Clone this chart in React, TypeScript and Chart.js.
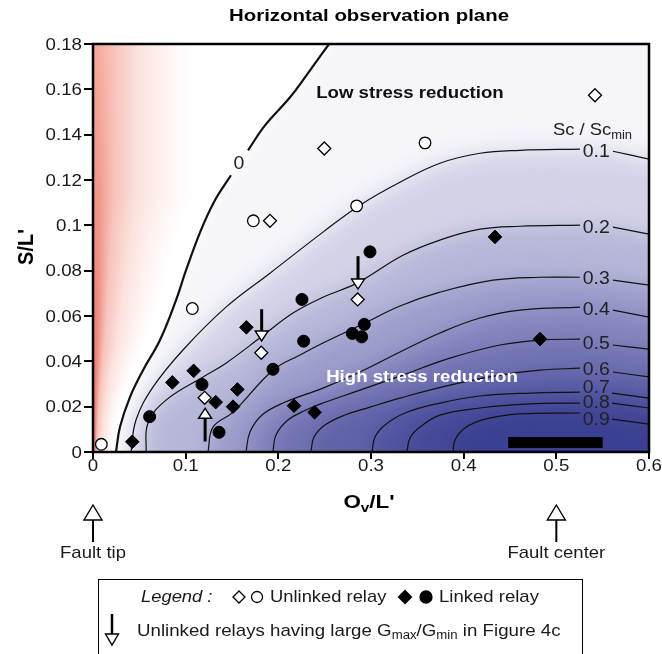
import React, { useEffect, useRef } from 'react';
import { Chart, registerables } from 'chart.js';

Chart.register(...registerables);

const FONT = '"Liberation Sans", Arial, Helvetica, sans-serif';
const TEXT = '#1a1a1a';

// ---- axes ----
const xMin = 0, xMax = 0.6, xStep = 0.1;
const yMin = 0, yMax = 0.18, yStep = 0.02;

// ---- observations [Ov/L', S/L'] ----
const unlinkedDiamonds = [[0.5417, 0.1574], [0.2496, 0.1339], [0.191, 0.102], [0.1205, 0.0239], [0.1816, 0.0438], [0.2856, 0.0673]];
const unlinkedCircles = [[0.009, 0.0034], [0.1072, 0.0633], [0.173, 0.102], [0.2845, 0.1086], [0.3583, 0.1364]];
const linkedDiamonds = [[0.0424, 0.0045], [0.0856, 0.0307], [0.1086, 0.0358], [0.1324, 0.022], [0.1558, 0.0276], [0.1511, 0.02], [0.1655, 0.055], [0.2169, 0.0204], [0.2392, 0.0175], [0.4338, 0.0949], [0.4824, 0.0498]];
const linkedCircles = [[0.0611, 0.0156], [0.1176, 0.0298], [0.136, 0.0087], [0.1942, 0.0365], [0.2255, 0.0673], [0.2273, 0.0489], [0.2798, 0.0523], [0.2899, 0.0508], [0.2928, 0.0563], [0.2989, 0.0883]];

// ---- arrows (unlinked relays with large Gmax/Gmin) ----
const arrowX = [0.182, 0.286, 0.121];
const arrowFrom = [0.063, 0.0864, 0.0046];
const arrowTo = [0.049, 0.0719, 0.0193];

// ---- fault bar ----
const faultBarX = [0.448, 0.55];
const faultBarY = [0.0018, 0.0066];

// ---- contours Sc/Scmin ----
const contourZeroLow = [[0.0248, 0], [0.0291, 0.011], [0.0399, 0.0242], [0.054, 0.0361], [0.0723, 0.0494], [0.0896, 0.067], [0.1004, 0.0802], [0.1165, 0.0979], [0.1316, 0.1111], [0.1489, 0.1221]];
const contourZeroHigh = [[0.1673, 0.1331], [0.1856, 0.1441], [0.2126, 0.1565], [0.2342, 0.1684], [0.2547, 0.18]];

const contourLevels = ['0.1', '0.2', '0.3', '0.4', '0.5', '0.6', '0.7', '0.8', '0.9'];
const contourLabelY = [0.1327, 0.0993, 0.0767, 0.063, 0.048, 0.0366, 0.0287, 0.022, 0.0145];
const c01 = [[0.041, 0], [0.0464, 0.0141], [0.0647, 0.0286], [0.0971, 0.045], [0.1435, 0.0639], [0.191, 0.0789], [0.2482, 0.097], [0.2881, 0.1089], [0.3313, 0.119], [0.3744, 0.1274], [0.4176, 0.1318], [0.4608, 0.1331], [0.5255, 0.1336]];
const c01r = [[0.5611, 0.1327], [0.6, 0.1292]];
const c02 = [[0.0572, 0], [0.0594, 0.0128], [0.0788, 0.0229], [0.1187, 0.0331], [0.1435, 0.0392], [0.1813, 0.0507], [0.2158, 0.0613], [0.2482, 0.0683], [0.2849, 0.0745], [0.3345, 0.0868], [0.3744, 0.0935], [0.4176, 0.0983], [0.4608, 0.0996], [0.5255, 0.1001]];
const c02r = [[0.5611, 0.0992], [0.6, 0.0961]];
const c03 = [[0.1241, 0], [0.1295, 0.011], [0.1511, 0.0176], [0.1942, 0.0361], [0.2234, 0.0428], [0.2482, 0.0481], [0.2935, 0.0569], [0.3313, 0.0644], [0.3744, 0.0705], [0.4316, 0.0758], [0.4824, 0.0771], [0.5255, 0.0771]];
const c03r = [[0.5611, 0.0758], [0.6, 0.0736]];
const c04 = [[0.1651, 0], [0.1694, 0.0088], [0.1824, 0.0163], [0.205, 0.0216], [0.2482, 0.0282], [0.2881, 0.0353], [0.3313, 0.0441], [0.3744, 0.0525], [0.4176, 0.0591], [0.4608, 0.0626], [0.5255, 0.0639]];
const c04r = [[0.5611, 0.0626], [0.6, 0.0595]];
const c05 = [[0.1942, 0], [0.1975, 0.0075], [0.2104, 0.0141], [0.2298, 0.0185], [0.2482, 0.0216], [0.2881, 0.0273], [0.3313, 0.0335], [0.3852, 0.0414], [0.4392, 0.0472], [0.4824, 0.0494], [0.5255, 0.0498]];
const c05r = [[0.5611, 0.0472], [0.6, 0.0454]];
const c06 = [[0.2352, 0], [0.2385, 0.0066], [0.2503, 0.0119], [0.2719, 0.0163], [0.2989, 0.0198], [0.3313, 0.0238], [0.3852, 0.0295], [0.4392, 0.0339], [0.4824, 0.0361], [0.5255, 0.037]];
const c06r = [[0.5611, 0.0353], [0.6, 0.0331]];
const c07 = [[0.3011, 0], [0.3043, 0.0066], [0.3151, 0.0119], [0.3367, 0.0172], [0.3744, 0.0216], [0.4176, 0.0247], [0.4716, 0.026], [0.5255, 0.0264]];
const c07r = [[0.5601, 0.026], [0.6, 0.0238]];
const c08 = [[0.3388, 0], [0.3421, 0.0062], [0.3529, 0.011], [0.3744, 0.0163], [0.4176, 0.0194], [0.4716, 0.0212], [0.5255, 0.0216]];
const c08r = [[0.5601, 0.0216], [0.6, 0.0194]];
const c09 = [[0.3885, 0], [0.3906, 0.0053], [0.4014, 0.0106], [0.423, 0.0145], [0.4608, 0.0168], [0.5255, 0.0172]];
const c09r = [[0.5601, 0.0145], [0.6, 0.0123]];

const contoursLeft = [c01, c02, c03, c04, c05, c06, c07, c08, c09];
const contoursRight = [c01r, c02r, c03r, c04r, c05r, c06r, c07r, c08r, c09r];
const contourLabelX = 0.543;

// shading colours from level 0 to level 0.9
const shadeColors = ['#f5f5fa', '#d3d3e8', '#b6b7d8', '#9c9dcb', '#8586be', '#7173b2', '#5f62a8', '#50549f', '#454998', '#3b4092'];

const bottomMarkersX = [0, 0.5];
const bottomMarkerLabels = ['Fault tip', 'Fault center'];

const toXY = (arr: number[][]) => arr.map(([x, y]) => ({ x, y }));
const fmt = (v: number) => String(parseFloat(Number(v).toFixed(2)));

type Part = { t: string; font: string; dy?: number };
function drawRich(ctx: CanvasRenderingContext2D, parts: Part[], x: number, y: number, align: 'left' | 'center' | 'right', sx = 1) {
  let total = 0;
  parts.forEach(p => { ctx.font = p.font; total += ctx.measureText(p.t).width; });
  ctx.save();
  ctx.translate(x, y);
  ctx.scale(sx, 1);
  let cx = align === 'center' ? -total / 2 : align === 'right' ? -total : 0;
  ctx.textAlign = 'left';
  ctx.textBaseline = 'middle';
  parts.forEach(p => {
    ctx.font = p.font;
    ctx.fillText(p.t, cx, p.dy || 0);
    cx += ctx.measureText(p.t).width;
  });
  ctx.restore();
}
function txt(ctx: CanvasRenderingContext2D, t: string, x: number, y: number, font: string, align: 'left' | 'center' | 'right', sx = 1) {
  drawRich(ctx, [{ t, font }], x, y, align, sx);
}

function diamond(ctx: CanvasRenderingContext2D, x: number, y: number, r: number, filled: boolean) {
  ctx.beginPath();
  ctx.moveTo(x, y - r); ctx.lineTo(x + r, y); ctx.lineTo(x, y + r); ctx.lineTo(x - r, y); ctx.closePath();
  ctx.fillStyle = filled ? '#000' : '#fff';
  ctx.fill();
  ctx.lineWidth = 1.3; ctx.strokeStyle = '#000'; ctx.stroke();
}
function circle(ctx: CanvasRenderingContext2D, x: number, y: number, r: number, filled: boolean) {
  ctx.beginPath();
  ctx.arc(x, y, r, 0, Math.PI * 2);
  ctx.fillStyle = filled ? '#000' : '#fff';
  ctx.fill();
  ctx.lineWidth = 1.3; ctx.strokeStyle = '#000'; ctx.stroke();
}
function arrow(ctx: CanvasRenderingContext2D, x: number, yTail: number, yTip: number, hw: number, hh: number, lw: number) {
  const dir = yTip > yTail ? 1 : -1;
  const base = yTip - dir * hh;
  ctx.beginPath();
  ctx.moveTo(x, yTail); ctx.lineTo(x, base);
  ctx.lineWidth = lw; ctx.strokeStyle = '#000'; ctx.lineCap = 'butt'; ctx.stroke();
  ctx.beginPath();
  ctx.moveTo(x - hw, base); ctx.lineTo(x + hw, base); ctx.lineTo(x, yTip); ctx.closePath();
  ctx.fillStyle = '#fff'; ctx.fill();
  ctx.lineWidth = 1.4; ctx.lineJoin = 'miter'; ctx.stroke();
}

const shadePlugin = {
  id: 'shade',
  beforeDatasetsDraw(chart: any) {
    const { ctx, chartArea: a } = chart;
    const X = (v: number) => chart.scales.x.getPixelForValue(v);
    const Y = (v: number) => chart.scales.y.getPixelForValue(v);
    ctx.save();
    ctx.beginPath();
    ctx.rect(a.left, a.top, a.right - a.left, a.bottom - a.top);
    ctx.clip();
    ctx.fillStyle = '#fff';
    ctx.fillRect(a.left, a.top, a.right - a.left, a.bottom - a.top);
    const levels = [contourZeroLow.concat(contourZeroHigh)].concat(contoursLeft.map((c, i) => c.concat(contoursRight[i])));
    ctx.filter = 'blur(11px)';
    levels.forEach((pts, k) => {
      const p = pts.map(([x, y]) => [X(x), Y(y)]);
      ctx.beginPath();
      ctx.moveTo(p[0][0], a.bottom + 60);
      p.forEach(q => ctx.lineTo(q[0], q[1]));
      const last = p[p.length - 1];
      if (last[0] < a.right - 1) {
        ctx.lineTo(last[0], a.top - 60);
        ctx.lineTo(a.right + 60, a.top - 60);
      } else {
        ctx.lineTo(a.right + 60, last[1]);
      }
      ctx.lineTo(a.right + 60, a.bottom + 60);
      ctx.closePath();
      ctx.fillStyle = shadeColors[k];
      ctx.fill();
    });
    ctx.filter = 'none';
    // red fringe left of the zero contour
    const z = levels[0].map(([x, y]) => [X(x), Y(y)]);
    const interp = (yy: number) => {
      for (let i = 0; i < z.length - 1; i++) {
        const [x1, y1] = z[i], [x2, y2] = z[i + 1];
        if ((yy <= y1 && yy >= y2)) {
          const t = (yy - y1) / (y2 - y1 || 1);
          return x1 + t * (x2 - x1);
        }
      }
      return z[z.length - 1][0];
    };
    for (let yy = Math.floor(a.top); yy < a.bottom; yy++) {
      const cx = interp(yy + 0.5);
      const w = cx - a.left;
      if (w <= 0) continue;
      const fade = Math.min(100, w * 0.8);
      const t = (yy - a.top) / (a.bottom - a.top);
      const r0 = [Math.round(243 - 14 * t), Math.round(164 - 56 * t), Math.round(150 - 50 * t)];
      const g = ctx.createLinearGradient(a.left, 0, a.left + fade, 0);
      g.addColorStop(0, `rgb(${r0[0]},${r0[1]},${r0[2]})`);
      g.addColorStop(0.07, `rgb(${r0[0] + 3},${r0[1] + 12},${r0[2] + 12})`);
      g.addColorStop(0.22, 'rgb(247,196,188)');
      g.addColorStop(0.45, 'rgb(252,226,221)');
      g.addColorStop(0.75, 'rgb(254,245,243)');
      g.addColorStop(1, 'rgb(255,255,255)');
      ctx.fillStyle = g;
      ctx.fillRect(a.left, yy, w, 1);
    }
    ctx.restore();
  },
};

const overlayPlugin = {
  id: 'overlay',
  afterDatasetsDraw(chart: any) {
    const { ctx, chartArea: a } = chart;
    const X = (v: number) => chart.scales.x.getPixelForValue(v);
    const Y = (v: number) => chart.scales.y.getPixelForValue(v);
    ctx.save();
    // fault bar
    ctx.fillStyle = '#000';
    ctx.fillRect(X(faultBarX[0]), Y(faultBarY[1]), X(faultBarX[1]) - X(faultBarX[0]), Y(faultBarY[0]) - Y(faultBarY[1]));
    // arrows
    arrowX.forEach((x, i) => arrow(ctx, X(x), Y(arrowFrom[i]), Y(arrowTo[i]), 6.5, 10, 3));
    // contour labels
    ctx.fillStyle = '#222';
    contourLevels.forEach((lab, i) => {
      txt(ctx, lab, X(contourLabelX), Y(contourLabelY[i]) + 1, `18px ${FONT}`, 'center', 1.08);
    });
    txt(ctx, '0', X(0.1575), Y(0.1274) + 1, `18px ${FONT}`, 'center', 1.08);
    drawRich(ctx, [
      { t: 'Sc / Sc', font: `17px ${FONT}` },
      { t: 'min', font: `12px ${FONT}`, dy: 5 },
    ], X(0.4964), Y(0.1419), 'left', 1.08);
    // region texts
    ctx.fillStyle = '#111';
    txt(ctx, 'Low stress reduction', X(0.342), Y(0.1583), `bold 16.5px ${FONT}`, 'center', 1.13);
    ctx.fillStyle = '#fff';
    txt(ctx, 'High stress reduction', X(0.355), Y(0.0331), `bold 16.5px ${FONT}`, 'center', 1.13);
    // frame
    ctx.strokeStyle = '#000';
    ctx.lineWidth = 2.5;
    ctx.strokeRect(a.left, a.top, a.right - a.left, a.bottom - a.top);
    ctx.restore();
  },
  afterDraw(chart: any) {
    const { ctx, chartArea: a } = chart;
    const xs = chart.scales.x, ys = chart.scales.y;
    const X = (v: number) => xs.getPixelForValue(v);
    ctx.save();
    // tick labels
    ctx.fillStyle = TEXT;
    xs.ticks.forEach((tk: any) => txt(ctx, fmt(tk.value), xs.getPixelForValue(tk.value), 466, `17px ${FONT}`, 'center', 1.1));
    ys.ticks.forEach((tk: any) => txt(ctx, fmt(tk.value), 82, ys.getPixelForValue(tk.value) + 1, `17px ${FONT}`, 'right', 1.1));
    ctx.fillStyle = '#000';
    txt(ctx, 'Horizontal observation plane', (a.left + a.right) / 2 - 2, 16, `bold 17px ${FONT}`, 'center', 1.2);
    // axis titles
    drawRich(ctx, [
      { t: 'O', font: `bold 19px ${FONT}` },
      { t: 'v', font: `bold 13px ${FONT}`, dy: 5 },
      { t: "/L'", font: `bold 19px ${FONT}` },
    ], (a.left + a.right) / 2 - 2, 503, 'center', 1.18);
    ctx.save();
    ctx.translate(27, (a.top + a.bottom) / 2 - 1);
    ctx.rotate(-Math.PI / 2);
    ctx.scale(1, 1.12);
    ctx.font = `bold 20px ${FONT}`;
    ctx.textAlign = 'center';
    ctx.textBaseline = 'middle';
    ctx.fillText("S/L'", 0, 0);
    ctx.restore();
    // fault markers
    bottomMarkersX.forEach((x, i) => {
      const px = X(x);
      arrow(ctx, px, 542, 505, 9, 15, 2);
      ctx.fillStyle = TEXT;
      txt(ctx, bottomMarkerLabels[i], px, 553, `17px ${FONT}`, 'center', 1.09);
    });
    // legend box
    ctx.strokeStyle = '#000';
    ctx.lineWidth = 1;
    ctx.strokeRect(98.5, 579.5, 484, 90);
    ctx.fillStyle = TEXT;
    txt(ctx, 'Legend :', 141, 597, `italic 17px ${FONT}`, 'left', 1.08);
    diamond(ctx, 239, 597, 6, false);
    circle(ctx, 257, 597, 5.5, false);
    ctx.fillStyle = TEXT;
    txt(ctx, 'Unlinked relay', 270, 597, `17px ${FONT}`, 'left', 1.08);
    diamond(ctx, 405, 597, 6.5, true);
    circle(ctx, 426, 597, 6, true);
    ctx.fillStyle = TEXT;
    txt(ctx, 'Linked relay', 439, 597, `17px ${FONT}`, 'left', 1.09);
    arrow(ctx, 112, 614, 645, 6.5, 11, 2.5);
    ctx.fillStyle = TEXT;
    drawRich(ctx, [
      { t: 'Unlinked relays having large G', font: `17px ${FONT}` },
      { t: 'max', font: `12px ${FONT}`, dy: 5 },
      { t: '/G', font: `17px ${FONT}` },
      { t: 'min', font: `12px ${FONT}`, dy: 5 },
      { t: ' in Figure 4c', font: `17px ${FONT}` },
    ], 137, 631, 'left', 1.1);
    ctx.restore();
  },
};

export default function App() {
  const ref = useRef<HTMLCanvasElement | null>(null);
  useEffect(() => {
    if (!ref.current) return;
    const lineDs = (pts: number[][], w: number) => ({
      data: toXY(pts),
      showLine: true,
      pointRadius: 0,
      borderColor: '#111',
      borderWidth: w,
      tension: 0.4,
      fill: false,
      order: 5,
    });
    const datasets: any[] = [
      lineDs(contourZeroLow, 2.2),
      lineDs(contourZeroHigh, 2.2),
      ...contoursLeft.map(c => lineDs(c, 1.2)),
      ...contoursRight.map(c => lineDs(c, 1.2)),
      { data: toXY(unlinkedDiamonds), pointStyle: 'rectRot', pointRadius: 6.5, backgroundColor: '#fff', borderColor: '#000', borderWidth: 1.3, order: 1 },
      { data: toXY(unlinkedCircles), pointStyle: 'circle', pointRadius: 5.8, backgroundColor: '#fff', borderColor: '#000', borderWidth: 1.3, order: 1 },
      { data: toXY(linkedDiamonds), pointStyle: 'rectRot', pointRadius: 6.8, backgroundColor: '#000', borderColor: '#000', borderWidth: 1, order: 1 },
      { data: toXY(linkedCircles), pointStyle: 'circle', pointRadius: 6, backgroundColor: '#000', borderColor: '#000', borderWidth: 1, order: 1 },
    ];
    const chart = new Chart(ref.current, {
      type: 'scatter',
      data: { datasets },
      options: {
        animation: false,
        responsive: false,
        events: [],
        layout: { padding: { left: 0, top: 44, right: 13, bottom: 162 } },
        plugins: { legend: { display: false }, title: { display: false }, tooltip: { enabled: false } },
        scales: {
          x: {
            type: 'linear', min: xMin, max: xMax,
            ticks: { stepSize: xStep, display: false },
            grid: { drawOnChartArea: false, drawTicks: true, tickLength: 7, color: '#000', lineWidth: 2 },
            border: { display: false },
            afterFit: (s: any) => { s.height = 40; },
          },
          y: {
            type: 'linear', min: yMin, max: yMax,
            ticks: { stepSize: yStep, display: false },
            grid: { drawOnChartArea: false, drawTicks: true, tickLength: 9, color: '#000', lineWidth: 2 },
            border: { display: false },
            afterFit: (s: any) => { s.width = 93; },
          },
        },
      },
      plugins: [shadePlugin, overlayPlugin],
    } as any);
    return () => chart.destroy();
  }, []);
  return (
    <div style={{ position: 'absolute', left: 0, top: 0, width: 662, height: 654, background: '#fff' }}>
      <canvas ref={ref} width={662} height={654} style={{ display: 'block' }} />
    </div>
  );
}
